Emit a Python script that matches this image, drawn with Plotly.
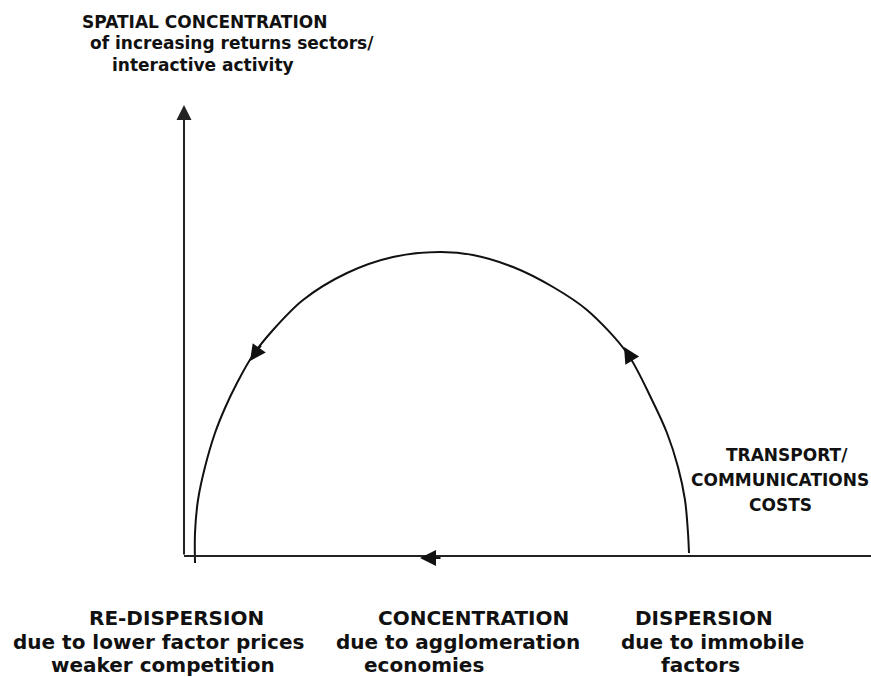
import plotly.graph_objects as go

W, H = 871, 677

# Arch (flow path), in pixel-like data units (y grows downward)
arc_x = [689, 688, 685, 678, 667, 652, 627, 587, 553, 513, 473, 440, 393, 347, 303, 273, 253, 237, 225, 215, 205, 198, 195, 195]
arc_y = [553, 533, 500, 467, 433, 400, 353, 310, 287, 267, 255, 252, 257, 273, 300, 330, 355, 383, 408, 433, 467, 500, 533, 563]

# axes
axis_origin = (184, 556)
y_axis_top = 105
x_axis_right = 871

# flow arrowheads: (tip_x, tip_y, tail_x, tail_y)
flow_arrows = [
    (250, 361, 262, 344),
    (624, 347, 633, 362),
    (420, 558, 442, 558),
]

# texts
top_lines = ["SPATIAL CONCENTRATION", "of increasing returns sectors/", "interactive activity"]
top_x = [80, 88, 110]
top_y = [22, 43, 65]

right_lines = ["TRANSPORT/", "COMMUNICATIONS", "COSTS"]
right_x = [787, 780, 780]
right_y = [455, 480, 505]

bottom_lines = [
    ["RE-DISPERSION", "due to lower factor prices", "weaker competition"],
    ["CONCENTRATION", "due to agglomeration", "economies"],
    ["DISPERSION", "due to immobile", "factors"],
]
bottom_x = [[176, 158, 163], [473, 458, 424], [704, 712, 700]]
bottom_y = [618, 642, 665]

fig = go.Figure()

fig.add_trace(go.Scatter(x=arc_x, y=arc_y, mode="lines",
                         line=dict(color="#111111", width=2, shape="spline", smoothing=0.9),
                         hoverinfo="skip", showlegend=False))

# horizontal axis
fig.add_trace(go.Scatter(x=[axis_origin[0], x_axis_right], y=[axis_origin[1], axis_origin[1]],
                         mode="lines", line=dict(color="#222222", width=2),
                         hoverinfo="skip", showlegend=False))

ann = []
# vertical axis with arrow
ann.append(dict(x=axis_origin[0], y=y_axis_top, ax=axis_origin[0], ay=axis_origin[1],
                xref="x", yref="y", axref="x", ayref="y", text="", showarrow=True,
                arrowhead=2, arrowsize=1.5, arrowwidth=2, arrowcolor="#222222"))
for tx, ty, sx, sy in flow_arrows:
    ann.append(dict(x=tx, y=ty, ax=sx, ay=sy, xref="x", yref="y", axref="x", ayref="y",
                    text="", showarrow=True, arrowhead=2, arrowsize=1.6, arrowwidth=2,
                    arrowcolor="#111111"))

font_top = dict(family="DejaVu Sans", size=17, color="#111111")
for t, x, y in zip(top_lines, top_x, top_y):
    ann.append(dict(x=x, y=y, xref="x", yref="y", text="<b>%s</b>" % t, showarrow=False,
                    xanchor="left", yanchor="middle", font=font_top))
for t, x, y in zip(right_lines, right_x, right_y):
    ann.append(dict(x=x, y=y, xref="x", yref="y", text="<b>%s</b>" % t, showarrow=False,
                    xanchor="center", yanchor="middle", font=font_top))
font_bot = dict(family="DejaVu Sans", size=20, color="#111111")
for grp, xs in zip(bottom_lines, bottom_x):
    for t, x, y in zip(grp, xs, bottom_y):
        ann.append(dict(x=x, y=y, xref="x", yref="y", text="<b>%s</b>" % t, showarrow=False,
                        xanchor="center", yanchor="middle", font=font_bot))

fig.update_layout(
    width=W, height=H, margin=dict(l=0, r=0, t=0, b=0),
    paper_bgcolor="white", plot_bgcolor="white",
    xaxis=dict(range=[0, W], visible=False, fixedrange=True),
    yaxis=dict(range=[H, 0], visible=False, fixedrange=True),
    annotations=ann,
)

fig.write_html("out.html",
               config={"displayModeBar": False, "staticPlot": True},
               post_script="document.body.style.margin='0';document.body.style.overflow='hidden';")
